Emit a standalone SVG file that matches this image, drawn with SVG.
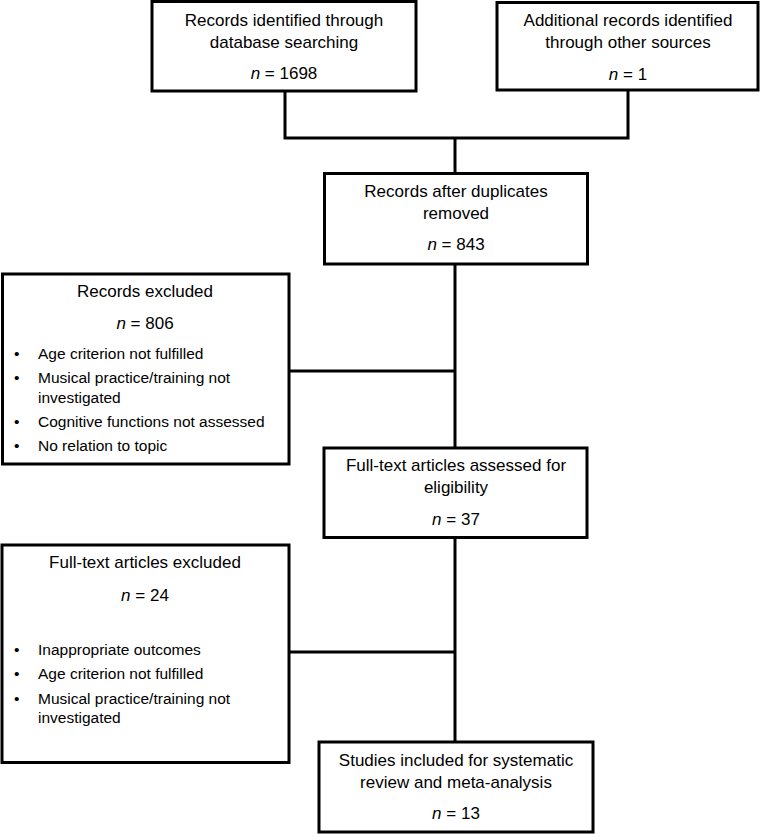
<svg xmlns="http://www.w3.org/2000/svg" width="761" height="834" viewBox="0 0 761 834">
<style>
.box{fill:#fff;stroke:#000;stroke-width:3}
.c{fill:none;stroke:#000;stroke-width:3}
text{font-family:"Liberation Sans",Arial,sans-serif;fill:#000}
.h{font-size:17px;text-anchor:middle}
.b{font-size:15.5px}
.i{font-style:italic}
</style>
<rect width="761" height="834" fill="#fff"/>
<g id="connectors">
<path class="c" d="M285 91 V138 H628 V90"/>
<path class="c" d="M455 138 V173"/>
<path class="c" d="M455 264 V448"/>
<path class="c" d="M289 371 H455"/>
<path class="c" d="M455 538 V742"/>
<path class="c" d="M289 652 H455"/>
</g>
<g id="db">
<rect class="box" x="152" y="1.5" width="264" height="89.5"/>
<text class="h" x="284" y="26">Records identified through</text>
<text class="h" x="284" y="48">database searching</text>
<text class="h" x="284" y="79"><tspan class="i">n</tspan> = 1698</text>
</g>
<g id="other">
<rect class="box" x="497" y="2.5" width="261" height="87.5"/>
<text class="h" x="628" y="26">Additional records identified</text>
<text class="h" x="628" y="48">through other sources</text>
<text class="h" x="628" y="80"><tspan class="i">n</tspan> = 1</text>
</g>
<g id="dup">
<rect class="box" x="324.5" y="173.5" width="263" height="90.5"/>
<text class="h" x="456" y="197">Records after duplicates</text>
<text class="h" x="456" y="219">removed</text>
<text class="h" x="456" y="250"><tspan class="i">n</tspan> = 843</text>
</g>
<g id="excl1">
<rect class="box" x="2.5" y="274" width="286.5" height="190"/>
<text class="h" x="145" y="297">Records excluded</text>
<text class="h" x="145" y="329"><tspan class="i">n</tspan> = 806</text>
<text class="b" x="14" y="359">•</text>
<text class="b" x="38" y="359">Age criterion not fulfilled</text>
<text class="b" x="14" y="383">•</text>
<text class="b" x="38" y="383">Musical practice/training not</text>
<text class="b" x="38" y="403">investigated</text>
<text class="b" x="14" y="427">•</text>
<text class="b" x="38" y="427">Cognitive functions not assessed</text>
<text class="b" x="14" y="451">•</text>
<text class="b" x="38" y="451">No relation to topic</text>
</g>
<g id="fulltext">
<rect class="box" x="324" y="448" width="263" height="89.5"/>
<text class="h" x="456" y="471">Full-text articles assessed for</text>
<text class="h" x="456" y="493">eligibility</text>
<text class="h" x="456" y="525"><tspan class="i">n</tspan> = 37</text>
</g>
<g id="excl2">
<rect class="box" x="2" y="545" width="287" height="217.5"/>
<text class="h" x="145" y="568">Full-text articles excluded</text>
<text class="h" x="145" y="601"><tspan class="i">n</tspan> = 24</text>
<text class="b" x="14" y="655">•</text>
<text class="b" x="38" y="655">Inappropriate outcomes</text>
<text class="b" x="14" y="679">•</text>
<text class="b" x="38" y="679">Age criterion not fulfilled</text>
<text class="b" x="14" y="704">•</text>
<text class="b" x="38" y="704">Musical practice/training not</text>
<text class="b" x="38" y="723">investigated</text>
</g>
<g id="included">
<rect class="box" x="319" y="742" width="274" height="90"/>
<text class="h" x="456" y="766">Studies included for systematic</text>
<text class="h" x="456" y="788">review and meta-analysis</text>
<text class="h" x="456" y="819"><tspan class="i">n</tspan> = 13</text>
</g>
</svg>
